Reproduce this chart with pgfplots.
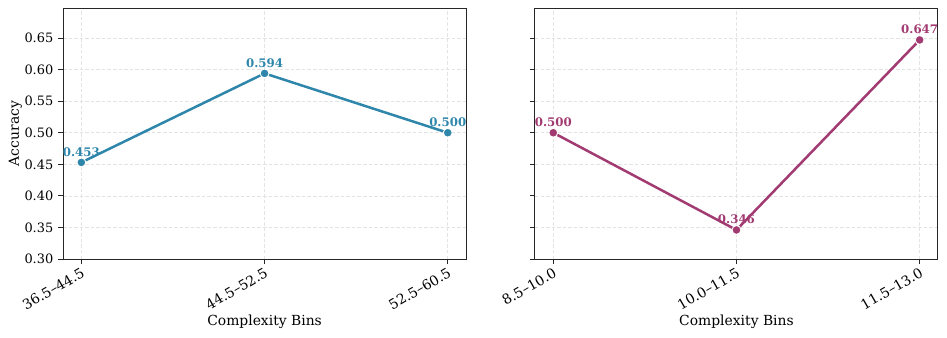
\documentclass[border=0pt]{standalone}
\usepackage{pgfplots}
\pgfplotsset{compat=1.18}
\usepackage{fontspec}
\setmainfont{DejaVu Serif}
\definecolor{cblue}{HTML}{2E86AB}
\definecolor{cmag}{HTML}{A23B72}

\pgfplotsset{
  panel/.style={
    scale only axis,
    width=290.2pt, height=180.7pt,
    xmin=-0.1, xmax=2.1,
    ymin=0.30, ymax=0.6975,
    xtick={0,1,2},
    ytick={0.30,0.35,0.40,0.45,0.50,0.55,0.60,0.65},
    yticklabel style={font=\fontsize{9.3}{11}\selectfont,
      /pgf/number format/fixed, /pgf/number format/fixed zerofill, /pgf/number format/precision=2},
    /pgf/number format/assume math mode=true,
    tick align=outside, tick pos=left,
    major tick length=3.5pt,
    axis line style={black!85, line width=0.7pt},
    every tick/.style={black!85, line width=0.6pt},
    grid=major,
    major grid style={dash pattern=on 2.5pt off 1.5pt, gray!22, line width=0.5pt},
    xticklabel style={font=\fontsize{10}{12}\selectfont, rotate=30, anchor=north east, inner sep=1.5pt},
    label style={font=\fontsize{10}{12}\selectfont},
    xlabel={Complexity Bins},
    xlabel style={at={(axis description cs:0.5,0)}, anchor=north, yshift=-37pt},
    clip=false,
    nodes near coords,
    point meta=explicit symbolic,
    every node near coord/.style={font=\fontsize{8.5}{10}\bfseries, anchor=south, yshift=0.5pt},
  },
}

\begin{document}
\begin{tikzpicture}
\path[use as bounding box] (-45.4pt,-56.2pt) rectangle (636.5pt,186.5pt);
\begin{axis}[panel, at={(0pt,0pt)}, anchor=south west,
  xticklabels={36.5--44.5, 44.5--52.5, 52.5--60.5},
  ylabel={Accuracy},
  ylabel style={at={(axis description cs:0,0.5)}, anchor=south, yshift=26pt},
  every node near coord/.append style={text=cblue}]
\addplot[color=cblue, line width=1.8pt, mark=*, mark size=3.2pt,
  mark options={fill=cblue, draw=white, line width=0.7pt}]
  table[meta=lab] {
x y lab
0 0.453 0.453
1 0.594 0.594
2 0.500 0.500
};
\end{axis}
\begin{axis}[panel, at={(339.8pt,0pt)}, anchor=south west,
  xticklabels={8.5--10.0, 10.0--11.5, 11.5--13.0},
  yticklabels={},
  every node near coord/.append style={text=cmag}]
\addplot[color=cmag, line width=1.8pt, mark=*, mark size=3.2pt,
  mark options={fill=cmag, draw=white, line width=0.7pt}]
  table[meta=lab] {
x y lab
0 0.500 0.500
1 0.346 0.346
2 0.647 0.647
};
\end{axis}
\end{tikzpicture}
\end{document}
